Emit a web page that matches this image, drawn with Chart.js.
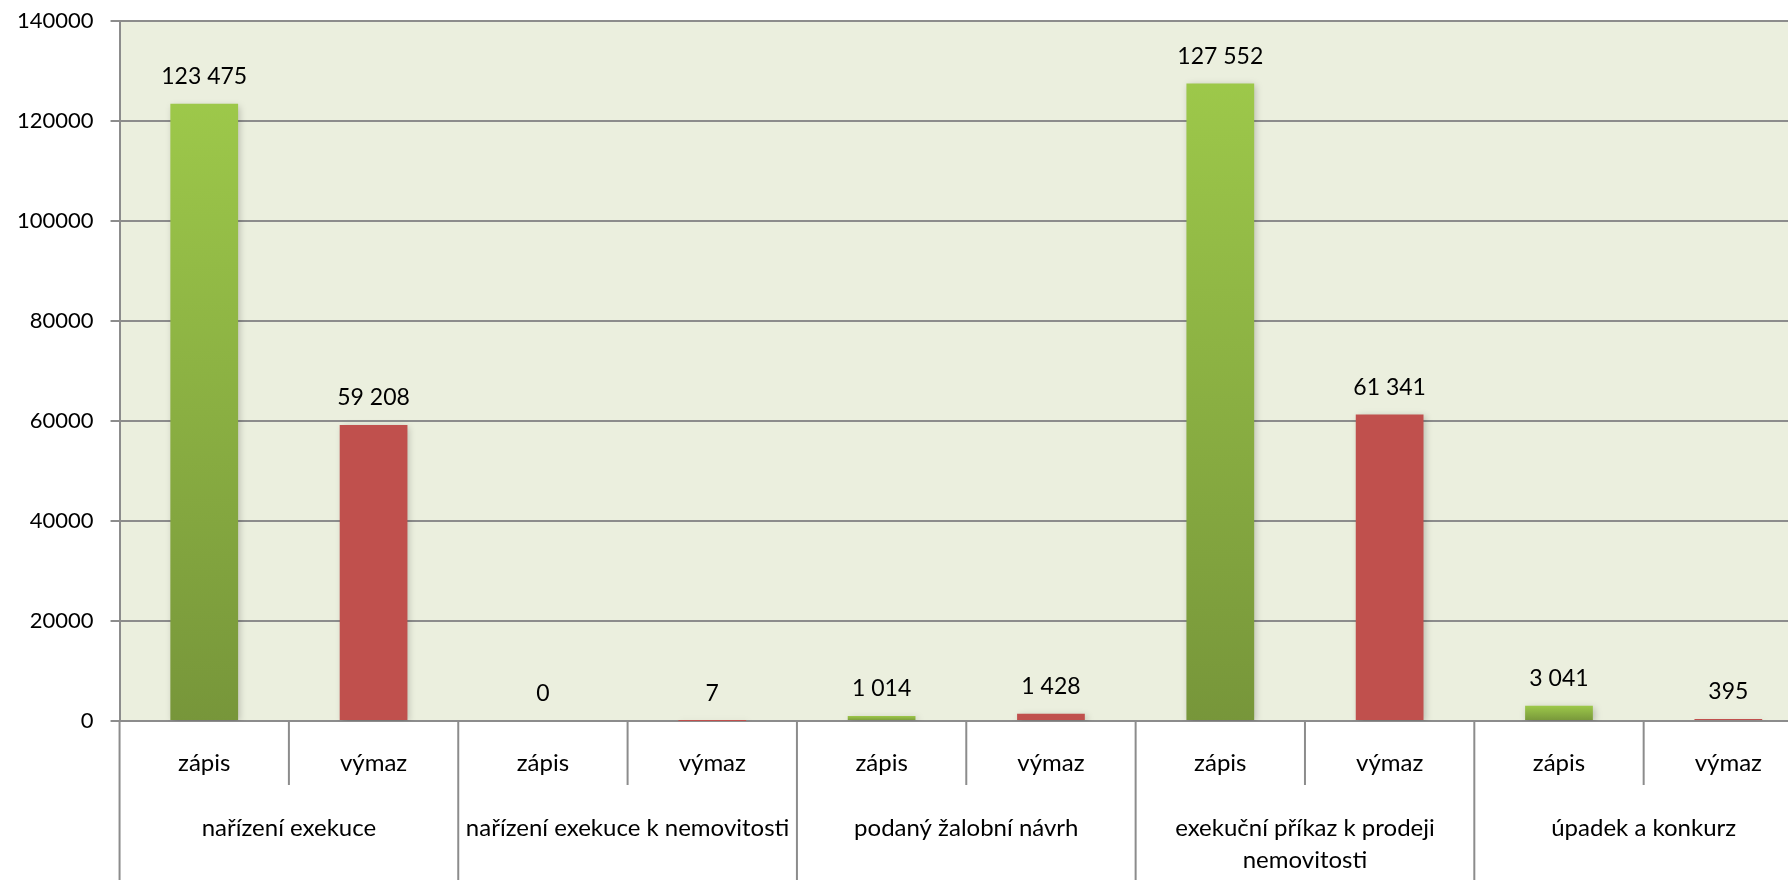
<!DOCTYPE html>
<html>
<head>
<meta charset="utf-8">
<script src="https://cdn.jsdelivr.net/npm/chart.js@4"></script>
<style>
  html, body { margin: 0; padding: 0; background: #fff; overflow: hidden; }
  #wrap { position: absolute; left: 0; top: -9px; width: 1840px; height: 889px; }
</style>
</head>
<body>
<div id="wrap"><canvas id="myBarChart" width="1840" height="889"></canvas></div>
<script>
var groups = ['nařízení exekuce', 'nařízení exekuce k nemovitosti', 'podaný žalobní návrh',
              ['exekuční příkaz k prodeji', 'nemovitosti'], 'úpadek a konkurz'];
var labels = ['zápis', 'výmaz', 'zápis', 'výmaz', 'zápis', 'výmaz', 'zápis', 'výmaz', 'zápis', 'výmaz'];
var values = [123475, 59208, 0, 7, 1014, 1428, 127552, 61341, 3041, 395];
var yTicks = [0, 20000, 40000, 60000, 80000, 100000, 120000, 140000];

var FONT = 'Lato, "Open Sans", sans-serif';

function fmt(v) {
    return String(v).replace(/\B(?=(\d{3})+(?!\d))/g, ' ');
}

function barColor(context) {
    var i = context.dataIndex;
    if (i % 2 === 1) return '#C0504D';
    var chart = context.chart;
    var y = chart.scales.y;
    if (!chart.chartArea || !y) return '#8DB443';
    var top = y.getPixelForValue(values[i]);
    var bottom = y.getPixelForValue(0);
    if (bottom - top < 1) top = bottom - 1;
    var g = chart.ctx.createLinearGradient(0, top, 0, bottom);
    g.addColorStop(0, '#9DC84A');
    g.addColorStop(1, '#77963A');
    return g;
}

var plotBg = {
    id: 'plotBg',
    beforeDraw: function(chart) {
        var a = chart.chartArea, ctx = chart.ctx;
        ctx.save();
        ctx.fillStyle = '#EBEFDE';
        ctx.fillRect(a.left, a.top, a.right - a.left, a.bottom - a.top);
        ctx.restore();
    }
};

var barShadow = {
    id: 'barShadow',
    beforeDatasetsDraw: function(chart) {
        var ctx = chart.ctx;
        ctx.save();
        ctx.shadowColor = 'rgba(0,0,0,0.22)';
        ctx.shadowBlur = 7;
        ctx.shadowOffsetX = 2;
        ctx.shadowOffsetY = 2;
    },
    afterDatasetsDraw: function(chart) {
        chart.ctx.restore();
    }
};

var valueLabels = {
    id: 'valueLabels',
    afterDatasetsDraw: function(chart) {
        var ctx = chart.ctx;
        var meta = chart.getDatasetMeta(0);
        ctx.save();
        ctx.font = '23px ' + FONT;
        ctx.fillStyle = '#000';
        ctx.textAlign = 'center';
        ctx.textBaseline = 'middle';
        meta.data.forEach(function(bar, i) {
            ctx.fillText(fmt(values[i]), bar.x, bar.y - 27);
        });
        ctx.restore();
    }
};

// two level category axis drawn under the plot
var groupAxis = {
    id: 'groupAxis',
    afterDraw: function(chart) {
        var ctx = chart.ctx;
        var x = chart.scales.x;
        var base = chart.chartArea.bottom;
        var step = x.getPixelForValue(1) - x.getPixelForValue(0);
        ctx.save();
        ctx.strokeStyle = '#8C8C8C';
        ctx.lineWidth = 2;
        for (var i = 0; i <= labels.length; i++) {
            var bx = x.getPixelForValue(0) - step / 2 + i * step;
            ctx.beginPath();
            ctx.moveTo(bx, base);
            ctx.lineTo(bx, i % 2 === 0 ? chart.height : base + 64);
            ctx.stroke();
        }
        ctx.font = '24px ' + FONT;
        ctx.fillStyle = '#000';
        ctx.textAlign = 'center';
        ctx.textBaseline = 'middle';
        labels.forEach(function(l, i) {
            ctx.fillText(l, x.getPixelForValue(i), base + 42);
        });
        groups.forEach(function(g, j) {
            var cx = (x.getPixelForValue(2 * j) + x.getPixelForValue(2 * j + 1)) / 2;
            var lines = Array.isArray(g) ? g : [g];
            lines.forEach(function(line, k) {
                ctx.fillText(line, cx, base + 107 + k * 32);
            });
        });
        ctx.restore();
    }
};

var ctx = document.getElementById('myBarChart').getContext('2d');
var myBarChart = new Chart(ctx, {
    type: 'bar',
    data: {
        labels: labels,
        datasets: [{
            data: values,
            backgroundColor: barColor,
            barPercentage: 0.4,
            categoryPercentage: 1.0
        }]
    },
    options: {
        responsive: false,
        maintainAspectRatio: false,
        animation: false,
        layout: { padding: { left: 0, right: 27, top: 0, bottom: 159 } },
        plugins: {
            legend: { display: false },
            tooltip: { enabled: false },
            title: { display: false }
        },
        scales: {
            x: {
                display: false
            },
            y: {
                min: 0,
                max: 140000,
                afterBuildTicks: function(scale) {
                    scale.ticks = yTicks.map(function(v) { return { value: v }; });
                },
                grid: {
                    color: '#8C8C8C',
                    lineWidth: 2,
                    tickLength: 9,
                    tickColor: '#8C8C8C'
                },
                border: { display: true, color: '#8C8C8C', width: 2 },
                ticks: {
                    padding: 17,
                    color: '#000',
                    font: { family: FONT, size: 22 },
                    callback: function(v) { return String(v); }
                }
            }
        }
    },
    plugins: [plotBg, barShadow, valueLabels, groupAxis]
});
</script>
</body>
</html>
